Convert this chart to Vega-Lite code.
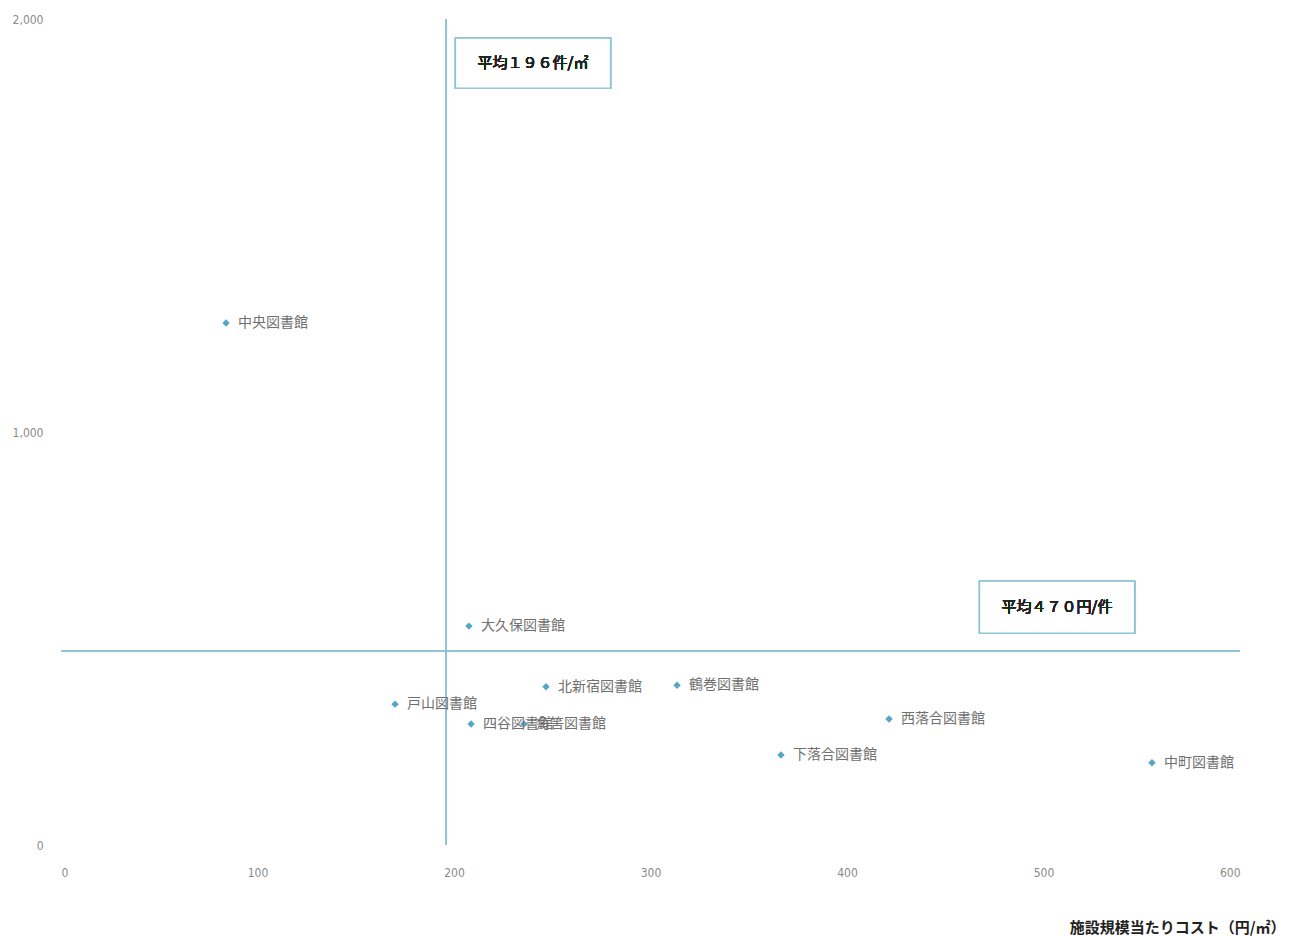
{
  "$schema": "https://vega.github.io/schema/vega-lite/v6.json",
  "width": 1179,
  "height": 826,
  "autosize": {"type": "none"},
  "padding": {"left": 61, "top": 19, "right": 52, "bottom": 91},
  "background": "#ffffff",
  "config": {
    "font": "Noto Sans CJK JP",
    "view": {"stroke": null},
    "axis": {
      "labelFont": "DejaVu Sans Condensed, Liberation Sans",
      "labelColor": "#8a8a8a",
      "labelFontSize": 12,
      "ticks": false,
      "domain": false,
      "gridColor": "#e6e6e6",
      "gridDash": [2, 3],
      "gridWidth": 1
    }
  },
  "data": {
    "values": [
      {"館名": "中央図書館", "コスト": 84, "件数": 1264},
      {"館名": "大久保図書館", "コスト": 207.6, "件数": 530},
      {"館名": "北新宿図書館", "コスト": 246.8, "件数": 383},
      {"館名": "鶴巻図書館", "コスト": 313.5, "件数": 387},
      {"館名": "戸山図書館", "コスト": 170, "件数": 341},
      {"館名": "四谷図書館", "コスト": 208.7, "件数": 293},
      {"館名": "角筈図書館", "コスト": 235.6, "件数": 293},
      {"館名": "西落合図書館", "コスト": 421.4, "件数": 305},
      {"館名": "下落合図書館", "コスト": 366.4, "件数": 218},
      {"館名": "中町図書館", "コスト": 555.2, "件数": 199}
    ]
  },
  "layer": [
    {
      "mark": {"type": "rule", "color": "#8fc4d8", "strokeWidth": 1.6},
      "encoding": {"x": {"datum": 196, "type": "quantitative"}}
    },
    {
      "mark": {"type": "rule", "color": "#8fc4d8", "strokeWidth": 1.6},
      "encoding": {"y": {"datum": 470, "type": "quantitative"}}
    },
    {
      "mark": {"type": "point", "shape": "diamond", "filled": true, "color": "#55a7c9", "size": 55, "opacity": 1},
      "encoding": {
        "x": {
          "field": "コスト",
          "type": "quantitative",
          "scale": {"domain": [0, 600], "nice": false},
          "axis": {
            "values": [0, 100, 200, 300, 400, 500, 600],
            "format": "d",
            "labelPadding": 22,
            "title": "施設規模当たりコスト（円/㎡）",
            "titleFont": "Noto Sans CJK JP",
            "titleFontSize": 15,
            "titleFontWeight": "bold",
            "titleColor": "#222222",
            "titleAlign": "right",
            "titleAnchor": null,
            "titleBaseline": "middle",
            "titleX": 1224,
            "titleY": 82
          }
        },
        "y": {
          "field": "件数",
          "type": "quantitative",
          "scale": {"domain": [0, 2000], "nice": false},
          "axis": {"values": [0, 1000, 2000], "format": ",d", "labelPadding": 18, "title": null}
        }
      }
    },
    {
      "mark": {"type": "text", "align": "left", "baseline": "middle", "dx": 12, "fontSize": 14, "color": "#707070"},
      "encoding": {
        "x": {"field": "コスト", "type": "quantitative"},
        "y": {"field": "件数", "type": "quantitative"},
        "text": {"field": "館名"}
      }
    },
    {
      "mark": {"type": "point", "shape": "M-1,-0.323L1,-0.323L1,0.323L-1,0.323Z", "size": 24025, "filled": true, "fill": "#ffffff", "stroke": "#8fc4d8", "strokeWidth": 1.3, "opacity": 1},
      "encoding": {"x": {"datum": 240.2, "type": "quantitative"}, "y": {"datum": 1893, "type": "quantitative"}}
    },
    {
      "mark": {"type": "text", "fontSize": 15, "color": "#222222", "align": "center", "baseline": "middle"},
      "encoding": {"x": {"datum": 240.2, "type": "quantitative"}, "y": {"datum": 1893, "type": "quantitative"}, "text": {"value": "平均１９６件/㎡"}}
    },
    {
      "mark": {"type": "point", "shape": "M-1,-0.335L1,-0.335L1,0.335L-1,0.335Z", "size": 24025, "filled": true, "fill": "#ffffff", "stroke": "#8fc4d8", "strokeWidth": 1.3, "opacity": 1},
      "encoding": {"x": {"datum": 506.9, "type": "quantitative"}, "y": {"datum": 576, "type": "quantitative"}}
    },
    {
      "mark": {"type": "text", "fontSize": 15, "color": "#222222", "align": "center", "baseline": "middle"},
      "encoding": {"x": {"datum": 506.9, "type": "quantitative"}, "y": {"datum": 576, "type": "quantitative"}, "text": {"value": "平均４７０円/件"}}
    }
  ]
}
